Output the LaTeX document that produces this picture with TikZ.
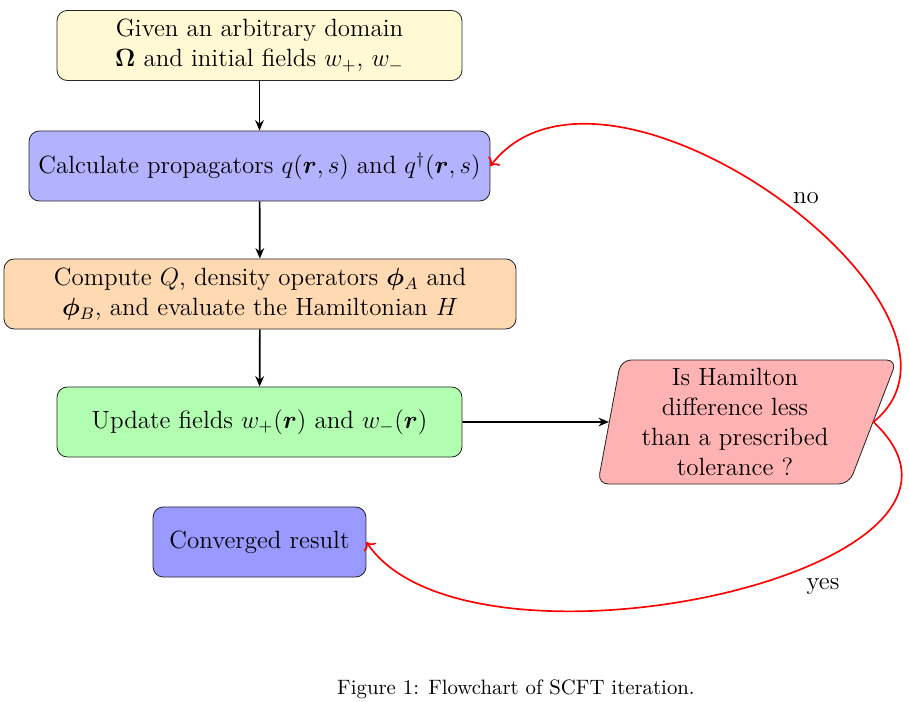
\documentclass[tikz,border=0pt]{standalone}
\usepackage{bm}
\usetikzlibrary{shapes.geometric,arrows.meta}
\definecolor{topfill}{RGB}{255,250,212}
\begin{document}
\begin{tikzpicture}[x=0.4808pt,y=-0.4808pt,
  box/.style={draw=black!85, rounded corners=5pt, align=center,
    font=\fontsize{12}{14.4}\selectfont, minimum height=33.7pt, inner sep=0pt},
  decbox/.style={draw=black!85, trapezium, trapezium left angle=80,
    trapezium right angle=110, trapezium stretches=true, rounded corners=5pt,
    align=center, font=\fontsize{12}{14.4}\selectfont, minimum width=144pt,
    minimum height=59.6pt, inner sep=0pt, fill=red!30},
  lbl/.style={font=\fontsize{12}{14.4}\selectfont, inner sep=0pt},
  flow/.style={thick, -{Stealth[length=5pt,width=4.2pt]}},
  loopback/.style={thick, red, ->}]
\useasboundingbox (0,0) rectangle (909,702);
\node[box, fill=topfill, minimum width=194.7pt] (start) at (259.5,45.5)
  {Given an arbitrary domain\\ $\bm{\Omega}$ and initial fields $w_{+}$, $w_{-}$};
\node[box, fill=blue!30, minimum width=221.6pt] (calc) at (259.5,166)
  {Calculate propagators $q(\bm{r},s)$ and $q^{\dagger}(\bm{r},s)$};
\node[box, fill=orange!30, minimum width=246.2pt] (comp) at (260,294)
  {Compute $Q$, density operators $\bm{\phi}_A$ and\\ $\bm{\phi}_B$, and evaluate the Hamiltonian $H$};
\node[box, fill=green!30, minimum width=194.7pt] (upd) at (259.5,422)
  {Update fields $w_{+}(\bm{r})$ and $w_{-}(\bm{r})$};
\node[decbox] (dec) at (735,422)
  {Is Hamilton\\ difference less\\ than a prescribed\\ tolerance ?};
\node[box, fill=blue!40, minimum width=102.4pt] (conv) at (259.5,542)
  {Converged result};
\draw[flow] (start) -- (calc);
\draw[flow] (calc) -- (comp);
\draw[flow] (comp) -- (upd);
\draw[flow] (upd) -- (dec);
\draw[loopback] (dec.east) .. controls +(135,-110) and +(115,-150) .. (calc.east);
\draw[loopback] (dec.east) .. controls +(160,150) and +(100,150) .. (conv.east);
\node[lbl] (no) at (806,198) {no};
\node[lbl] (yes) at (823,586) {yes};
\node[font=\fontsize{10}{12}\selectfont, inner sep=0pt] (cap) at (516,689)
  {Figure 1: Flowchart of SCFT iteration.};
\end{tikzpicture}
\end{document}
